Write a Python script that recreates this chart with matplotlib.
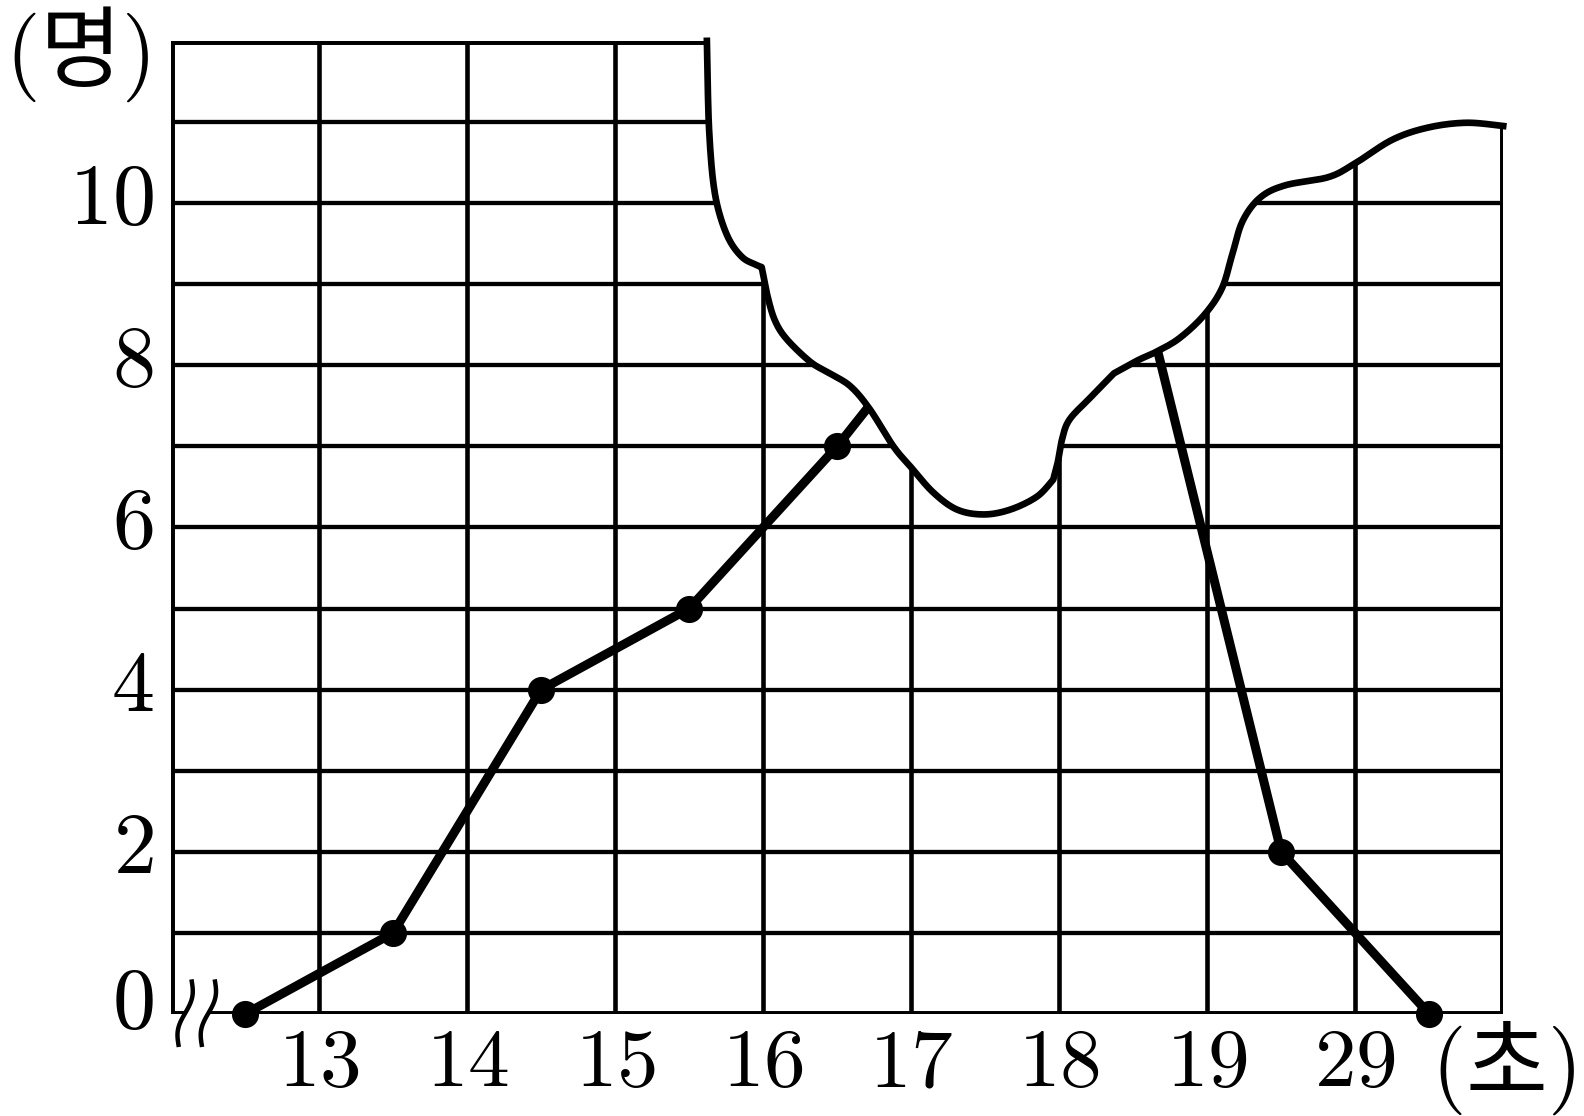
import numpy as np
import matplotlib
matplotlib.use('Agg')
import matplotlib.pyplot as plt

plt.rcParams['mathtext.fontset'] = 'cm'

# class marks (seconds) and counts; the two marks under the torn paper are estimates
sec_marks = [12.5, 13.5, 14.5, 15.5, 16.5, 17.5, 18.5, 19.5, 20.5]
counts = [0, 1, 4, 5, 7, 9.3, 9.4, 2, 0]
hidden = [17.5, 18.5]

x_ticks = [13, 14, 15, 16, 17, 18, 19, 20]
x_ticklabels = ['13', '14', '15', '16', '17', '18', '19', '29']
y_ticks = [0, 2, 4, 6, 8, 10]

# outline of the torn-away piece (data coords), split at its corners
tear_a = [(15.62, 12.0), (15.625, 11.5), (15.635, 10.9), (15.66, 10.3), (15.70, 9.9),
          (15.77, 9.55), (15.86, 9.33), (15.95, 9.24), (15.99, 9.21)]
tear_b = [(15.99, 9.21), (16.03, 8.85), (16.08, 8.55), (16.16, 8.32), (16.32, 8.04),
          (16.45, 7.9), (16.59, 7.74), (16.72, 7.46), (16.88, 7.0), (17.0, 6.74),
          (17.15, 6.43), (17.31, 6.22), (17.49, 6.16), (17.67, 6.22), (17.85, 6.38),
          (17.96, 6.59)]
tear_c = [(17.96, 6.59), (17.99, 6.8), (18.02, 7.09), (18.07, 7.33), (18.21, 7.6),
          (18.37, 7.9)]
tear_d = [(18.37, 7.9), (18.53, 8.06), (18.65, 8.16), (18.81, 8.33), (18.98, 8.62),
          (19.10, 8.95), (19.17, 9.37), (19.24, 9.78), (19.36, 10.07), (19.53, 10.22),
          (19.82, 10.32), (20.0, 10.49), (20.25, 10.78), (20.49, 10.93), (20.75, 10.99),
          (21.0, 10.95)]


def smooth(pts, n=16):
    # catmull-rom through the outline points, just to round the paper edge
    p = np.array(pts, dtype=float)
    p = np.vstack([p[0], p, p[-1]])
    out = []
    for i in range(1, len(p) - 2):
        p0, p1, p2, p3 = p[i - 1], p[i], p[i + 1], p[i + 2]
        t = np.linspace(0, 1, n, endpoint=False)[:, None]
        seg = 0.5 * ((2 * p1) + (-p0 + p2) * t + (2 * p0 - 5 * p1 + 4 * p2 - p3) * t ** 2
                     + (-p0 + 3 * p1 - 3 * p2 + p3) * t ** 3)
        out.append(seg)
    out.append(p[-2][None, :])
    return np.vstack(out)


fig = plt.figure(figsize=(15.84, 11.16), dpi=100)
ax = fig.add_axes([0.108, 0.0914, 0.841, 0.872])
ax.set_xlim(12, 21)
ax.set_ylim(0, 12)
ax.axis('off')

# grid
ax.vlines(x_ticks, 0, 12, color='black', lw=3.3, zorder=1)
ax.hlines(range(1, 12), 12, 21, color='black', lw=3.1, zorder=1)

# frame
ax.plot([12, 12, 15.62], [0, 12, 12], color='black', lw=5, zorder=2, solid_capstyle='projecting')
ax.plot([21, 21], [0, 10.95], color='black', lw=5, zorder=2)
ax.plot([11.985, 12.07], [0, 0], color='black', lw=5, zorder=2)
ax.plot([12.28, 21.017], [0, 0], color='black', lw=5, zorder=2)

# frequency polygon
ax.plot(sec_marks, counts, color='black', lw=6.5, zorder=3)
vis = [(x, y) for x, y in zip(sec_marks, counts) if x not in hidden]
ax.plot([v[0] for v in vis], [v[1] for v in vis], 'o', color='black', ms=18.5, zorder=4, clip_on=False)

# torn paper: white patch over everything, then its edge
edge = np.vstack([smooth(tear_a), smooth(tear_b), smooth(tear_c), smooth(tear_d)])
patch = np.vstack([edge, [(21.3, 10.95), (21.3, 12.6), (15.55, 12.6)]])
ax.fill(patch[:, 0], patch[:, 1], color='white', zorder=5, clip_on=False)
ax.plot(edge[:, 0], edge[:, 1], color='black', lw=4.8, zorder=6, clip_on=False)

# axis break marks
t = np.linspace(0, 1, 60)
for x0 in [12.14, 12.297]:
    xs = x0 - 0.09 * t + 0.025 * np.sin(2 * np.pi * t)
    ys = 0.4 - 0.78 * t
    ax.plot(xs, ys, color='black', lw=3.2, zorder=3, clip_on=False)

# tick labels
for x, lab in zip(x_ticks, x_ticklabels):
    ax.text(x, -0.60, '$%s$' % lab, fontsize=60, ha='center', va='center')
for y in y_ticks:
    dy = 0.12 if y == 0 else 0.03
    ax.text(11.88, y + dy, '$%d$' % y, fontsize=62, ha='right', va='center')

# unit labels
ax.text(11.365, 11.84, '$($명$)$', fontsize=64, ha='center', va='center',
        family=['Noto Sans CJK KR', 'DejaVu Sans'])
ax.text(21.0, -0.66, '$($초$)$', fontsize=64, ha='center', va='center',
        family=['Noto Sans CJK KR', 'DejaVu Sans'])

fig.savefig('out.png', dpi=100)
